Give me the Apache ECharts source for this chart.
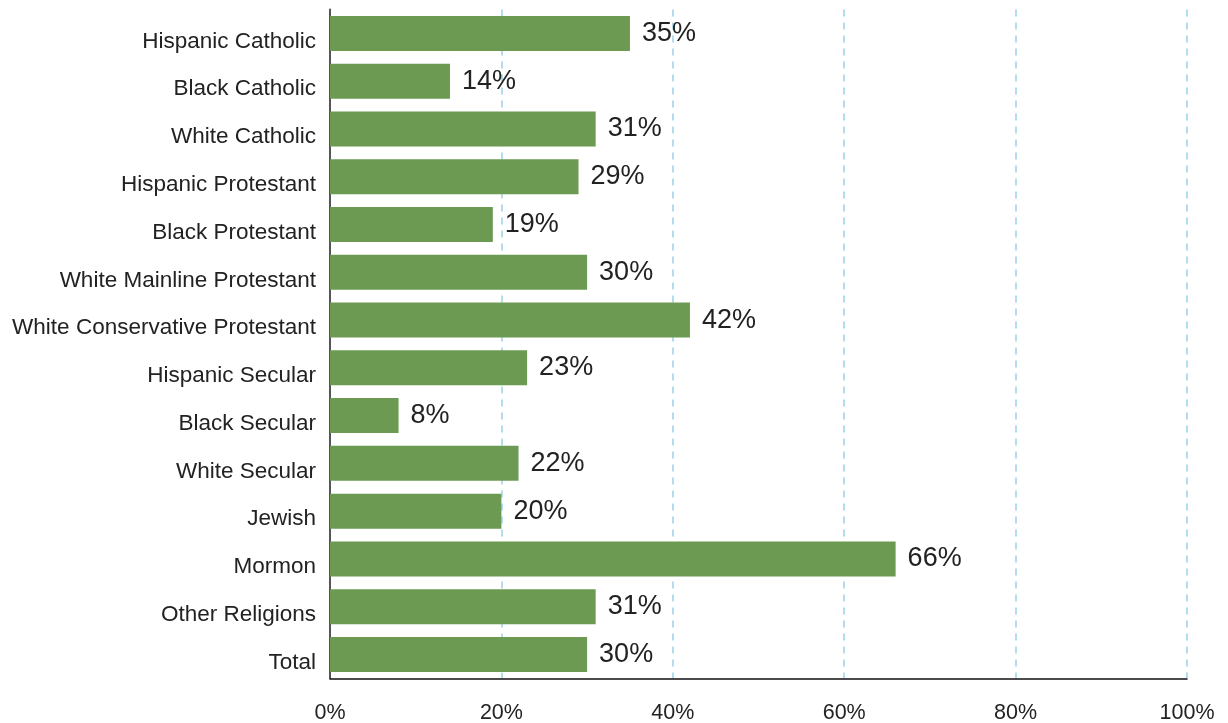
<!DOCTYPE html>
<html>
<head>
<meta charset="utf-8">
<script src="https://cdn.jsdelivr.net/npm/echarts@6/dist/echarts.min.js"></script>
<style>html,body{margin:0;padding:0;background:#fff}#c{width:1228px;height:723px}</style>
</head>
<body>
<div id="c"></div>
<script>
var categories = ["Hispanic Catholic","Black Catholic","White Catholic","Hispanic Protestant","Black Protestant","White Mainline Protestant","White Conservative Protestant","Hispanic Secular","Black Secular","White Secular","Jewish","Mormon","Other Religions","Total"];
var values = [35,14,31,29,19,30,42,23,8,22,20,66,31,30];
var xTicks = [0,20,40,60,80,100];
var FONT = "'Liberation Sans', Arial, sans-serif";

var chart = echarts.init(document.getElementById('c'), null, {renderer:'canvas'});
chart.setOption({
  animation:false,
  grid:{left:330,right:41,top:9.6,bottom:44.7,containLabel:false,outerBoundsMode:'none'},
  xAxis:{
    type:'value',min:0,max:100,interval:20,
    axisLine:{show:true,lineStyle:{color:'#111',width:1.5}},
    axisTick:{show:false},
    axisLabel:{formatter:function(v){return xTicks.indexOf(v)>=0? v+'%':'';},fontFamily:FONT,fontSize:21.5,color:'#222',margin:24},
    splitLine:{show:true,lineStyle:{color:'#b3dcef',width:2,type:[7,6]}}
  },
  yAxis:{
    type:'category',data:categories,inverse:true,
    axisLine:{show:true,lineStyle:{color:'#555',width:2}},
    axisTick:{show:false},
    axisLabel:{fontFamily:FONT,fontSize:22.5,color:'#222',margin:14,verticalAlign:'top',lineHeight:16}
  },
  series:[{
    type:'bar',data:values,barWidth:35,
    itemStyle:{color:'#6d9a53'},
    label:{show:true,position:'right',distance:12,formatter:'{c}%',fontFamily:FONT,fontSize:27,color:'#222'}
  }]
});
</script>
</body>
</html>
